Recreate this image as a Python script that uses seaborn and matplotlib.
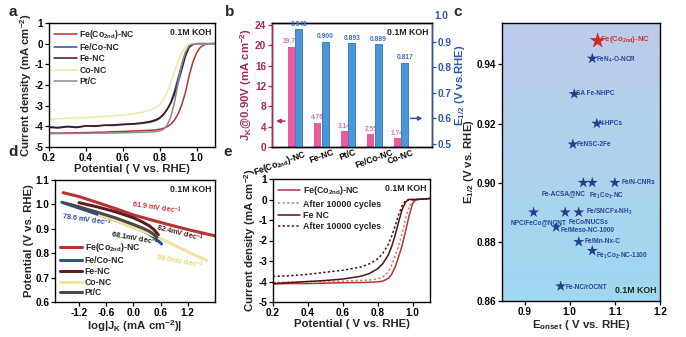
import matplotlib
matplotlib.use("Agg")
import matplotlib.pyplot as plt
import matplotlib.transforms as mtransforms
import numpy as np
import pandas as pd
import seaborn as sns

sns.set_theme(style="white")
plt.rcParams["font.family"] = ["Liberation Sans", "DejaVu Sans"]
plt.rcParams.update({
    "font.weight": "bold",
    "axes.labelweight": "bold",
    "axes.unicode_minus": False,
    "mathtext.fontset": "custom",
    "mathtext.rm": "Liberation Sans:bold",
    "mathtext.bf": "Liberation Sans:bold",
    "mathtext.it": "Liberation Sans:bold:italic",
    "mathtext.default": "bf",
    "xtick.bottom": True,
    "ytick.left": True,
    "axes.edgecolor": "black",
    "axes.linewidth": 1.0,
    "xtick.color": "black",
    "ytick.color": "black",
})

# ---------------- (a) ORR polarisation curves ----------------
lsv_potential = [0.20, 0.25, 0.30, 0.35, 0.40, 0.45, 0.50, 0.55, 0.60, 0.65, 0.70, 0.75,
                 0.78, 0.80, 0.82, 0.84, 0.86, 0.88, 0.90, 0.92, 0.94, 0.96, 0.98, 1.00,
                 1.02, 1.04, 1.06, 1.08, 1.10]
lsv_fe_co2nd = [-4.32, -4.33, -4.32, -4.31, -4.30, -4.29, -4.28, -4.26, -4.25, -4.23, -4.21, -4.19,
                -4.17, -4.14, -4.10, -4.02, -3.90, -3.70, -3.40, -2.95, -2.35, -1.55, -0.90, -0.45,
                -0.18, -0.06, -0.02, 0.00, 0.00]
lsv_feco = [-4.02, -4.05, -4.00, -4.03, -3.98, -3.97, -3.95, -3.96, -3.92, -3.90, -3.86, -3.80,
            -3.72, -3.62, -3.45, -3.20, -2.85, -2.30, -1.65, -1.00, -0.45, -0.12, -0.02, 0.00,
            0.00, 0.00, 0.00, 0.00, 0.00]
lsv_fe = [-4.05, -4.08, -4.02, -4.06, -3.98, -4.00, -3.95, -3.93, -3.90, -3.88, -3.84, -3.76,
          -3.68, -3.58, -3.42, -3.18, -2.88, -2.45, -1.90, -1.25, -0.60, -0.18, -0.04, 0.00,
          0.00, 0.00, 0.00, 0.00, 0.00]
lsv_co = [-3.65, -3.63, -3.61, -3.59, -3.57, -3.55, -3.52, -3.49, -3.45, -3.40, -3.33, -3.20,
          -3.08, -2.95, -2.70, -2.35, -1.90, -1.35, -0.85, -0.45, -0.15, -0.03, 0.00, 0.00,
          0.00, 0.00, 0.00, 0.00, 0.00]
lsv_ptc = [-4.35, -4.35, -4.35, -4.34, -4.34, -4.33, -4.33, -4.32, -4.31, -4.30, -4.29, -4.27,
           -4.25, -4.22, -4.15, -3.95, -3.55, -2.85, -1.90, -1.00, -0.40, -0.10, -0.02, 0.00,
           0.00, 0.00, 0.00, 0.00, 0.00]

# ---------------- (b) kinetic current and half-wave potential ----------------
catalysts_b = [r"Fe(Co$_{2nd}$)-NC", "Fe-NC", "Pt/C", "Fe/Co-NC", "Co-NC"]
jk_090 = [19.70, 4.76, 3.14, 2.55, 1.74]
e_half = [0.948, 0.900, 0.893, 0.889, 0.817]

# ---------------- (c) comparison with reported catalysts ----------------
ref_names = [r"FeN$_4$-O-NCR", "SA Fe-NHPC", "N-HPCs", "FeNSC-2Fe", "Fe-ACSA@NC",
             r"Fe$_1$Co$_1$-NC", "Fe/N-CNRs", "NPC/FeCo@NCNT", "FeCo/NUCSs",
             r"Fe/SNCFx-NH$_3$", "Fe/Meso-NC-1000", "Fe/Mn-Nx-C", r"Fe$_1$Co$_2$-NC-1100",
             "Fe-NC/rOCNT"]
ref_onset = [1.05, 1.01, 1.06, 1.007, 1.03, 1.05, 1.10, 0.92, 0.99, 1.02, 0.97, 1.02, 1.05, 0.98]
ref_ehalf = [0.942, 0.930, 0.920, 0.913, 0.900, 0.900, 0.900, 0.890, 0.890, 0.890, 0.885,
             0.880, 0.877, 0.865]
this_onset = [1.062]
this_ehalf = [0.948]

# ---------------- (d) Tafel plots ----------------
tafel_x_red = [-1.55, -1.2, -0.8, -0.4, 0.0, 0.4, 0.8, 1.2, 1.5, 1.8]
tafel_y_red = [1.048, 1.032, 1.008, 0.983, 0.957, 0.936, 0.916, 0.897, 0.884, 0.871]
tafel_x_feco = [-1.58, -1.2, -0.8, -0.4, 0.0, 0.2, 0.35, 0.45, 0.55, 0.62]
tafel_y_feco = [1.009, 0.985, 0.960, 0.935, 0.907, 0.892, 0.878, 0.865, 0.850, 0.838]
tafel_x_fe = [-1.2, -0.8, -0.4, 0.0, 0.2, 0.35, 0.45, 0.55]
tafel_y_fe = [1.007, 0.990, 0.970, 0.945, 0.928, 0.912, 0.897, 0.875]
tafel_x_co = [-0.75, -0.4, 0.0, 0.3, 0.5, 0.7, 0.9, 1.1, 1.3, 1.5, 1.62]
tafel_y_co = [0.957, 0.935, 0.905, 0.884, 0.868, 0.851, 0.833, 0.815, 0.797, 0.780, 0.770]
tafel_x_pt = [-1.5, -1.2, -0.8, -0.4, 0.0, 0.2, 0.35, 0.45, 0.52]
tafel_y_pt = [1.005, 0.990, 0.968, 0.945, 0.918, 0.903, 0.890, 0.877, 0.865]

# ---------------- (e) durability ----------------
dur_potential = [0.20, 0.30, 0.40, 0.50, 0.60, 0.70, 0.75, 0.80, 0.83, 0.86, 0.88, 0.90,
                 0.92, 0.94, 0.96, 0.98, 1.00, 1.02, 1.06, 1.10]
dur_red_fresh = [-4.12, -4.10, -4.10, -4.08, -4.06, -4.05, -4.04, -4.02, -3.98, -3.85, -3.65,
                 -3.30, -2.80, -2.25, -1.55, -0.80, -0.20, 0.00, 0.02, 0.05]
dur_red_aged = [-4.05, -4.03, -4.01, -4.00, -3.98, -3.95, -3.93, -3.88, -3.78, -3.55, -3.20,
                -2.75, -2.25, -1.65, -0.95, -0.35, -0.05, 0.00, 0.02, 0.05]
dur_fe_fresh = [-4.10, -4.05, -4.00, -3.95, -3.88, -3.75, -3.62, -3.38, -3.12, -2.72, -2.30,
                -1.75, -1.10, -0.50, -0.12, 0.00, 0.00, 0.00, 0.02, 0.05]
dur_fe_aged = [-3.75, -3.72, -3.65, -3.55, -3.45, -3.30, -3.15, -2.90, -2.62, -2.20, -1.80,
               -1.30, -0.75, -0.30, -0.05, 0.00, 0.00, 0.00, 0.02, 0.05]

W, H = 686, 337
fig = plt.figure(figsize=(W / 100, H / 100), dpi=100)


def box(l, t, r, b):
    return [l / W, 1 - b / H, (r - l) / W, (b - t) / H]


def style(ax, lab=7.2):
    ax.tick_params(direction="out", length=3, width=0.9, labelsize=lab, pad=1.2)
    for s in ax.spines.values():
        s.set_color("black")
        s.set_linewidth(1.0)


def koh(ax, x=0.98, y=0.96, va="top"):
    ax.text(x, y, "0.1M KOH", transform=ax.transAxes, ha="right", va=va, fontsize=6.3,
            fontweight="bold")


RED = "#B83232"
BLUE = "#2E4E9E"
DARK = "#4A1515"
YEL = "#F3E6A0"
GRAY = "#8A8A8A"
LABFS = 8.2

# ---- panel a
ax = fig.add_axes(box(49, 23, 215, 147))
series_a = [(r"Fe(Co$_{2nd}$)-NC", lsv_fe_co2nd, RED), ("Fe/Co-NC", lsv_feco, BLUE),
            ("Fe-NC", lsv_fe, DARK), ("Co-NC", lsv_co, YEL), ("Pt/C", lsv_ptc, GRAY)]
for name, vals, col in series_a:
    sns.lineplot(x=lsv_potential, y=vals, ax=ax, color=col, lw=1.1, label=name,
                 sort=False, estimator=None)
ax.set_xlim(0.2, 1.1)
ax.set_ylim(-5, 1)
ax.set_xticks([0.2, 0.4, 0.6, 0.8, 1.0])
ax.set_yticks([-5, -4, -3, -2, -1, 0, 1])
ax.set_ylabel(r"Current density (mA cm$^{-2}$)", fontsize=LABFS, labelpad=0.5)
ax.set_xlabel("Potential ( V vs. RHE)", fontsize=LABFS, labelpad=0.5)
style(ax)
ax.legend(loc="upper left", fontsize=6.2, frameon=False, handlelength=2.6, labelspacing=0.25,
          borderaxespad=0.2, handletextpad=0.3)
koh(ax)

# ---- panel b
PINK = "#EA5A9C"
BBLUE = "#4A98DA"
MAROON = "#A8285A"
AXBLUE = "#2F56A8"
axb = fig.add_axes(box(272, 23, 432, 147))
axr = axb.twinx()
idx = np.arange(len(catalysts_b))
sns.barplot(x=idx - 0.14, y=jk_090, ax=axb, native_scale=True, width=0.27, color=PINK,
            saturation=1, edgecolor="none")
sns.barplot(x=idx + 0.14, y=e_half, ax=axr, native_scale=True, width=0.27, color=BBLUE,
            saturation=1, edgecolor="#2C74B8", linewidth=0.6)
axb.set_xlim(-0.87, 5.17)
axb.set_ylim(0, 24.4)
axr.set_ylim(0.488, 0.973)
axb.set_yticks([0, 4, 8, 12, 16, 20, 24])
axr.set_yticks([0.5, 0.6, 0.7, 0.8, 0.9])
axb.set_xticks(idx)
axb.set_xticklabels(catalysts_b, rotation=20, ha="center", fontsize=6.2)
style(axb)
style(axr)
axb.tick_params(axis="x", length=0, pad=0.5, labelsize=6.2)
axb.tick_params(axis="y", colors=MAROON)
axr.tick_params(axis="y", colors=AXBLUE, right=True)
axr.spines["right"].set_color(AXBLUE)
axr.spines["left"].set_color(MAROON)
first = axb.get_xticklabels()[0]
first.set_transform(first.get_transform() +
                    mtransforms.ScaledTranslation(-0.15, 0.0, fig.dpi_scale_trans))
axr.text(1.015, 1.0, "1.0", transform=axr.get_yaxis_transform(), color=AXBLUE,
         fontsize=7.2, va="center", ha="left", clip_on=False)
axb.set_ylabel(r"J$_K$@0.90V (mA cm$^{-2}$)", fontsize=LABFS, color=MAROON, labelpad=0.5)
axr.set_ylabel(r"E$_{1/2}$ (V vs.RHE)", fontsize=LABFS, color=AXBLUE, labelpad=1)
axb.grid(False)
axr.grid(False)
for i, v in enumerate(jk_090):
    axb.text(i - 0.14, v + 0.3, f"{v:.2f}", ha="center", va="bottom", fontsize=4.8,
             color="#E070A8")
for i, v in enumerate(e_half):
    axr.text(i + 0.14, v + 0.006, f"{v:.3f}", ha="center", va="bottom", fontsize=4.8,
             color="#3A70C0")
axb.annotate("", xy=(-0.82, 5.1), xytext=(-0.28, 5.1),
             arrowprops=dict(arrowstyle="-|>", color=MAROON, lw=1.1, mutation_scale=6))
axr.annotate("", xy=(4.92, 0.6), xytext=(4.25, 0.6),
             arrowprops=dict(arrowstyle="-|>", color=AXBLUE, lw=1.1, mutation_scale=6))
koh(axb)

# ---- panel c
axc = fig.add_axes(box(502, 23, 660, 301))
grad = np.linspace(0, 1, 256)[:, None]
top = np.array([0.745, 0.800, 0.918])
bot = np.array([0.620, 0.850, 0.945])
img = top[None, None, :] * (1 - grad[..., None]) + bot[None, None, :] * grad[..., None]
axc.imshow(img, extent=[0.85, 1.2, 0.86, 0.954], aspect="auto", zorder=0, origin="upper")
sns.scatterplot(x=ref_onset, y=ref_ehalf, ax=axc, marker="*", s=70, color="#23408E",
                edgecolor="none", zorder=3)
sns.scatterplot(x=this_onset, y=this_ehalf, ax=axc, marker="*", s=150, color="#D42A2A",
                edgecolor="none", zorder=3)
axc.set_xlim(0.85, 1.2)
axc.set_ylim(0.86, 0.954)
axc.set_xticks([0.9, 1.0, 1.1, 1.2])
axc.set_yticks([0.86, 0.88, 0.90, 0.92, 0.94])
axc.set_xticklabels(["0.9", "1.0", "1.1", "1.2"])
axc.set_ylabel(r"E$_{1/2}$ (V vs. RHE)", fontsize=LABFS, labelpad=0.5)
axc.set_xlabel(r"E$_{onset}$ ( V vs. RHE)", fontsize=LABFS, labelpad=1)
style(axc)
LBL = "#2B4592"
fs_c = 4.7
axc.text(this_onset[0] + 0.006, this_ehalf[0] + 0.0005, r"Fe(Co$_{2nd}$)-NC", color="#D43030",
         fontsize=5.6, va="center", ha="left")
offsets = [(0.008, -0.0005, "left"), (0.004, 0.0, "left"), (0.005, 0.0, "left"),
           (0.008, 0.0, "left"), (0.006, -0.0036, "right"), (-0.008, -0.0045, "left"),
           (0.015, 0.0, "left"), (0.074, -0.0035, "right"), (0.007, -0.0035, "left"),
           (0.016, 0.0, "left"), (0.009, -0.0012, "left"), (0.012, 0.0, "left"),
           (0.009, -0.0017, "left"), (0.012, -0.0003, "left")]
for name, xo, yo, (dx, dy, ha) in zip(ref_names, ref_onset, ref_ehalf, offsets):
    axc.text(xo + dx, yo + dy, name, color=LBL, fontsize=fs_c, va="center", ha=ha)
koh(axc, x=0.98, y=0.02, va="bottom")

# ---- panel d
axd = fig.add_axes(box(55, 180, 215, 302))
series_d = [(r"Fe(Co$_{2nd}$)-NC", tafel_x_red, tafel_y_red, "#B83232"),
            ("Fe/Co-NC", tafel_x_feco, tafel_y_feco, "#2E4E9E"),
            ("Fe-NC", tafel_x_fe, tafel_y_fe, "#5A2020"),
            ("Co-NC", tafel_x_co, tafel_y_co, "#F1E49C"),
            ("Pt/C", tafel_x_pt, tafel_y_pt, "#4A4A4A")]
order_d = [3, 0, 2, 4, 1]
for k in order_d:
    name, xs, ys, col = series_d[k]
    sns.lineplot(x=xs, y=ys, ax=axd, color=col, lw=2.2, label=name, sort=False,
                 estimator=None, zorder=2 + k)
axd.set_xlim(-1.73, 1.8)
axd.set_ylim(0.6, 1.1)
axd.set_xticks([-1.2, -0.6, 0.0, 0.6, 1.2])
axd.set_yticks([0.6, 0.7, 0.8, 0.9, 1.0, 1.1])
axd.set_xlabel(r"log|J$_K$ (mA cm$^{-2}$)|", fontsize=LABFS, labelpad=0.5)
axd.set_ylabel("Potential (V vs. RHE)", fontsize=LABFS, labelpad=0.5)
style(axd)
h, l = axd.get_legend_handles_labels()
pairs = dict(zip(l, h))
names_d = [s[0] for s in series_d]
axd.legend([pairs[n] for n in names_d], names_d, loc="lower left", fontsize=6.2,
           frameon=False, handlelength=2.6, labelspacing=0.2, borderaxespad=0.15,
           handletextpad=0.3)
slope_txt = [("61.9 mV dec$^{-1}$", 0.51, 0.984, -8, "#C03838"),
             ("78.6 mV dec$^{-1}$", -1.03, 0.936, -8, "#2E4E9E"),
             ("68.1mV dec$^{-1}$", 0.03, 0.858, -10, "#222222"),
             ("82.4mV dec$^{-1}$", 1.02, 0.880, -14, "#5A2020"),
             ("98.0mV dec$^{-1}$", 1.02, 0.766, -10, "#EBD77A")]
for txt, xx, yy, rot, col in slope_txt:
    axd.text(xx, yy, txt, color=col, fontsize=5.3, rotation=rot, ha="center", va="center")
koh(axd)

# ---- panel e
axe = fig.add_axes(box(273, 179, 430, 302))
series_e = [(r"Fe(Co$_{2nd}$)-NC", dur_red_fresh, "#B83232", "-"),
            ("After 10000 cycles", dur_red_aged, "#D27A7A", (0, (1.5, 1.5))),
            ("Fe NC", dur_fe_fresh, "#4A1515", "-"),
            ("After 10000 cycles", dur_fe_aged, "#4A1515", (0, (1.5, 1.5)))]
for name, vals, col, ls in series_e:
    sns.lineplot(x=dur_potential, y=vals, ax=axe, color=col, lw=1.1, linestyle=ls,
                 label=name, sort=False, estimator=None)
axe.set_xlim(0.2, 1.1)
axe.set_ylim(-5, 1)
axe.set_xticks([0.2, 0.4, 0.6, 0.8, 1.0])
axe.set_yticks([-5, -4, -3, -2, -1, 0, 1])
axe.set_ylabel(r"Current density (mA cm$^{-2}$)", fontsize=LABFS, labelpad=0.5)
axe.set_xlabel("Potential ( V vs. RHE)", fontsize=LABFS, labelpad=0.5)
style(axe)
axe.legend(loc="upper left", fontsize=6.4, frameon=False, handlelength=2.4,
           labelspacing=0.25, borderaxespad=0.2, handletextpad=0.4)
koh(axe)

# panel letters
for letter, px, py in [("a", 13, 12), ("b", 230, 12), ("c", 458, 12), ("d", 13, 152),
                       ("e", 228, 152)]:
    fig.text(px / W, 1 - py / H, letter, fontsize=11, fontweight="bold", ha="center",
             va="center")

fig.savefig("out.png", dpi=100)
